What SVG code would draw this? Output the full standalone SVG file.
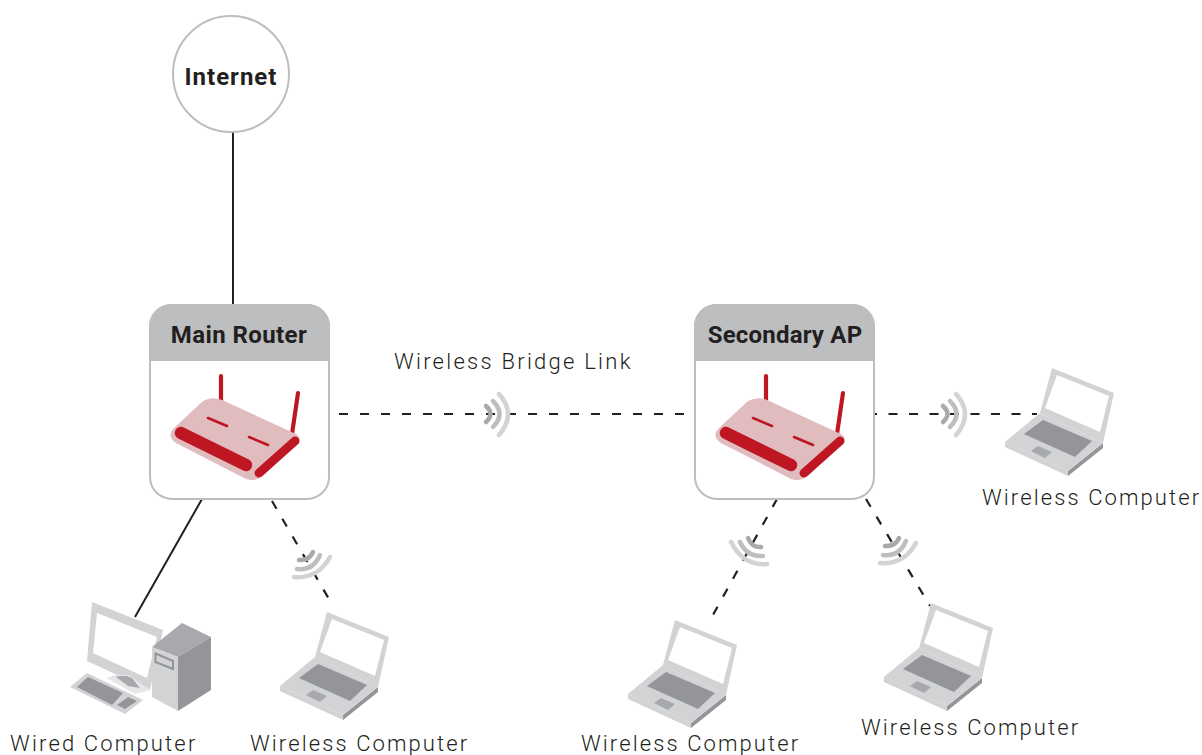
<svg xmlns="http://www.w3.org/2000/svg" xmlns:xlink="http://www.w3.org/1999/xlink" width="1202" height="755" viewBox="0 0 1202 755">
<style>
text{font-family:"Roboto","Liberation Sans",sans-serif;fill:#231f20}
.t{font-size:22px;font-weight:300;letter-spacing:2.1px}
.b{font-size:24px;font-weight:700;letter-spacing:.9px;text-anchor:middle}
.card{fill:#fff;stroke:#bcbec0;stroke-width:2}
.head{fill:#bcbec0}
.solid{fill:none;stroke:#231f20;stroke-width:2}
.dash{fill:none;stroke:#231f20;stroke-width:2.200;stroke-dasharray:9 11.500}
.w1,.w2,.w3{fill:none;stroke-width:4.500;stroke-linecap:round}
.w1{stroke:#a7a9ac}.w2{stroke:#bcbec0}.w3{stroke:#d1d3d4}
</style>
<defs>
<g id="router">
<path d="M221 376V402M298 393L292 434" fill="none" stroke="#be1622" stroke-width="4.200" stroke-linecap="round"/>
<path d="M203 401Q212 396 222 400L296 434Q302 438 298 443L263 476Q255 482 246 479L176 443Q166 436 174 428Z" fill="#e0bcbe"/>
<path d="M181 433L246 465" fill="none" stroke="#be1622" stroke-width="12.500" stroke-linecap="round"/>
<path d="M259 473L295 441" fill="none" stroke="#be1622" stroke-width="9" stroke-linecap="round"/>
<path d="M208 418L227 426M249 437L268 445" fill="none" stroke="#be1622" stroke-width="2.600" stroke-linecap="round"/>
</g>
<g id="laptop">
<path d="M280 686V691L343 720V715Z" fill="#d1d3d4"/>
<path d="M343 715L378 687V692L343 720Z" fill="#939598"/>
<path d="M327 612L389 637L378 687L315 657Z" fill="#d1d3d4"/>
<path d="M332 619L384 640L375 676L320 652Z" fill="#fff"/>
<path d="M280 686L343 715L378 687L315 657Z" fill="#d1d3d4"/>
<path d="M318 664L367 685L350 701L299 678Z" fill="#939598"/>
<path d="M313 690L327 696L320 702L306 695Z" fill="#a7a9ac"/>
</g>
<g id="wifi-h">
<path class="w3" d="M956 394Q974 414 956 435"/>
<path class="w2" d="M950 401Q963 414 950 427"/>
<path class="w1" d="M943 406Q952 414 943 422"/>
</g>
<g id="wifi-r">
<path class="w3" d="M294 577Q318 579 330 557"/>
<path class="w2" d="M297 569Q313 571 320 555"/>
<path class="w1" d="M299 560Q309 561 313 552"/>
</g>
<g id="wifi-l">
<path class="w3" d="M731 542Q743 566 767 564"/>
<path class="w2" d="M740 542Q747 557 763 556"/>
<path class="w1" d="M748 538Q752 548 761 547"/>
</g>
</defs>
<g id="connectors">
<path class="solid" d="M233 132V304M202 499L135 617"/>
<path class="dash" d="M339 414H686" style="stroke-dasharray:9 12"/>
<path class="dash" d="M875 414H1037" stroke-dashoffset="7"/>
<path class="dash" d="M272 501L333 606"/>
<path class="dash" d="M777 499L708 624"/>
<path class="dash" d="M866 499L930 606"/>
<use href="#wifi-h" transform="translate(-457 0)"/>
<use href="#wifi-h"/>
<use href="#wifi-r"/>
<use href="#wifi-r" transform="translate(586 -14)"/>
<use href="#wifi-l"/>
</g>
<g id="internet">
<circle cx="231" cy="74" r="58" fill="#fff" stroke="#bcbec0" stroke-width="2"/>
<text class="b" x="231" y="85" style="letter-spacing:1px">Internet</text>
</g>
<g id="main-router">
<rect class="card" x="150" y="305" width="179" height="194" rx="22"/>
<path class="head" d="M149 361V326A22 22 0 0 1 171 304H308A22 22 0 0 1 330 326V361Z"/>
<text class="b" x="239" y="343" style="letter-spacing:.4px">Main Router</text>
<use href="#router"/>
</g>
<g id="secondary-ap">
<rect class="card" x="695" y="305" width="179" height="194" rx="22"/>
<path class="head" d="M694 361V326A22 22 0 0 1 716 304H853A22 22 0 0 1 875 326V361Z"/>
<text class="b" x="785" y="343" style="letter-spacing:.2px">Secondary AP</text>
<use href="#router" transform="translate(545 0)"/>
</g>
<g id="bridge-label"><text class="t" x="394" y="369" style="letter-spacing:2.250px">Wireless Bridge Link</text></g>
<g id="wired-computer">
<path d="M92 602L163 630L150 690L87 661Z" fill="#d1d3d4"/>
<path d="M97 613L157 637L147 678L93 653Z" fill="#fff"/>
<path d="M106 678Q118 672 130 676L150 690L135 694Z" fill="#e6e7e8"/>
<path d="M116 677Q124 674 132 678L140 688L128 686Z" fill="#a7a9ac"/>
<path d="M152 647L182 623L211 637L178 657Z" fill="#a7a9ac"/>
<path d="M152 647L178 657V711L152 697Z" fill="#d1d3d4"/>
<path d="M178 657L211 637V690L178 711Z" fill="#939598"/>
<path d="M155.500 653.500L173 661V669L155.500 662Z" fill="#d1d3d4" stroke="#939598" stroke-width="2"/>
<path d="M87 673L143 700L125 714L70 687Z" fill="#d1d3d4"/>
<path d="M88 677L123 693L112 705L77 687Z" fill="#939598"/>
<path d="M128 697L137 701L125 709L117 705Z" fill="#939598"/>
<text class="t" x="10" y="751" style="letter-spacing:2.170px">Wired Computer</text>
</g>
<g id="wireless-computer-1">
<use href="#laptop"/>
<text class="t" x="250" y="751">Wireless Computer</text>
</g>
<g id="wireless-computer-2">
<use href="#laptop" transform="translate(348 8)"/>
<text class="t" x="581" y="751">Wireless Computer</text>
</g>
<g id="wireless-computer-3">
<use href="#laptop" transform="translate(604 -9)"/>
<text class="t" x="861" y="735">Wireless Computer</text>
</g>
<g id="wireless-computer-4">
<use href="#laptop" transform="translate(725 -244)"/>
<text class="t" x="982" y="505">Wireless Computer</text>
</g>
</svg>
